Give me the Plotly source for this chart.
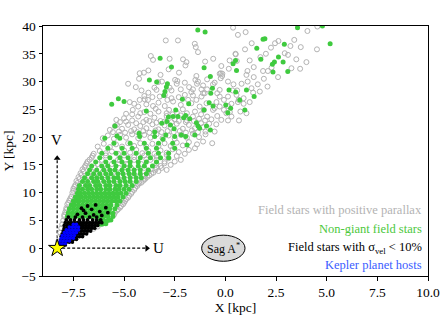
import plotly.graph_objects as go

# ---------------- data (kpc) ----------------
GRAY_PTS = [
    (-8.25,1.2),(-7.75,1.3),(-8.2,2.0),(-7.3,2.2),(-8.15,2.8),(-6.9,2.9),(-8.1,3.6),(-6.5,3.5),(-6.3,3.9),(-8.05,4.3),
    (-6.0,4.5),(-8.0,5.0),(-5.7,5.2),(-7.95,5.7),(-5.5,6.0),(-7.9,6.5),(-5.35,6.8),(-5.2,7.3),(-7.85,7.2),(-7.8,7.9),(-5.05,7.9),
    (-7.7,8.6),(-4.95,8.5),(-4.8,9.1),(-7.6,9.3),(-7.55,10.0),(-4.65,9.8),(-4.5,10.5),(-7.5,10.7),(-4.35,11.2),(-7.4,11.4),
    (-4.15,11.8),(-7.35,12.1),(-3.95,12.5),
    (-7.95,6.0),(-7.85,6.9),(-7.75,8.2),(-7.65,8.95),(-7.5,10.35),(-7.45,11.05),(-7.3,11.75),(-7.2,12.45),(-7.1,13.2),
    (-7.0,13.85),(-6.95,14.6),(-6.85,15.25),(-6.7,15.95),(-6.55,16.65),
    (-5.45,6.4),(-5.3,7.0),(-5.15,7.6),(-5.0,8.2),(-4.9,8.8),(-4.75,9.45),(-4.6,10.15),(-4.45,10.85),(-4.3,11.5),
    (-4.05,12.15),(-3.85,12.85),(-3.65,13.4),(-3.45,14.1),(-3.15,14.45),
    (-7.05,11.65),(-6.55,11.65),(-6.05,11.65),(-5.55,11.65),(-5.05,11.65),(-4.75,11.65),(-4.25,11.7),
    (-6.9,12.35),(-6.4,12.35),(-5.9,12.35),(-5.35,12.35),(-4.85,12.35),(-4.55,12.35),(-4.0,12.4),
    (-6.75,13.05),(-6.25,13.05),(-5.65,13.05),(-5.15,13.05),(-4.55,13.05),(-4.0,13.05),
    (-6.6,13.75),(-6.05,13.75),(-5.5,13.75),(-4.95,13.75),(-4.35,13.75),(-3.8,13.75),
    (-6.45,14.45),(-5.85,14.45),(-5.25,14.45),(-4.65,14.45),(-4.0,14.45),
    (-6.3,15.15),(-5.6,15.15),(-4.9,15.15),(-4.15,15.15),(-3.4,15.2),
    (-6.1,15.9),(-5.3,15.9),(-4.5,15.9),(-3.7,15.9),(-3.0,15.6),
    (-5.9,16.7),(-5.0,16.7),(-4.0,16.7),(-3.4,16.6),(-2.9,16.8),
    (-7.25,12.8),(-3.75,13.1),(-3.55,13.6),(-7.15,13.5),(-3.3,13.9),(-7.05,14.2),(-2.9,14.1),(-3.4,14.5),(-3.2,14.8),(-6.9,14.9),
    (-2.7,15.0),(-3.0,15.3),(-6.8,15.6),(-2.5,15.6),(-2.2,15.9),(-3.4,15.9),(-6.6,16.3),(-2.8,16.2),(-2.4,16.6),(-5.2,15.8),
    (-4.8,15.2),(-4.5,16.4),(-3.9,16.0),
    (-6.5,17.0),(-6.2,17.5),(-5.9,17.1),(-5.6,17.4),(-5.3,17.0),(-5.0,17.6),(-4.7,17.2),(-4.4,17.7),(-4.1,17.1),(-3.8,17.5),
    (-3.5,17.0),(-3.2,17.6),(-2.9,17.2),(-2.6,17.8),(-2.3,17.3),(-2.0,17.0),(-1.8,17.7),(-1.5,18.0),
    (-6.3,18.3),(-6.0,18.8),(-5.7,18.2),(-5.4,18.7),(-5.1,18.3),(-4.8,18.9),(-4.5,18.4),(-4.2,18.9),(-3.9,18.3),(-3.6,18.8),
    (-3.3,18.4),(-3.0,18.9),(-2.7,18.4),(-2.4,19.0),(-2.1,18.5),(-1.8,19.1),(-1.4,18.7),(-1.1,19.2),(-0.65,18.9),
    (-6.05,19.8),(-5.8,20.3),(-5.5,19.7),(-5.2,20.4),(-4.9,19.9),(-4.6,20.5),(-4.3,19.8),(-4.0,20.4),(-3.7,19.9),(-3.4,20.5),
    (-3.1,19.8),(-2.8,20.3),(-2.5,19.7),(-2.2,20.4),(-1.9,19.9),(-1.6,20.6),(-1.3,20.0),(-0.98,20.5),(-0.98,21.0),
    (-5.55,20.9),(-5.25,21.0),(-4.95,20.8),(-4.65,21.1),(-4.35,20.9),(-4.05,21.1),(-3.75,20.8),(-3.45,21.2),(-3.15,20.9),
    (-2.85,21.1),(-2.55,20.9),(-2.25,21.1),(-1.95,20.8),(-1.65,21.2),(-1.35,20.9),(-1.1,21.8),
    (-5.7,21.3),(-5.45,22.0),(-5.1,21.5),(-4.8,22.2),(-4.5,21.4),(-4.2,22.0),(-3.9,21.6),(-3.6,22.3),(-3.3,21.4),(-3.0,22.1),
    (-2.7,21.7),(-2.4,22.4),(-2.1,21.5),(-1.8,22.2),(-1.5,21.6),(-1.2,22.5),(-0.8,22.4),(-0.53,21.0),
    (-5.2,22.7),(-4.9,22.8),(-4.4,22.5),(-4.05,22.7),(-3.75,22.9),(-3.4,22.6),(-3.0,22.8),(-2.65,22.7),(-2.3,22.9),
    (-1.95,22.7),(-1.55,22.9),(-1.0,23.0),(-0.45,22.3),
    (-5.38,23.1),(-5.35,22.2),(-5.0,23.4),(-4.6,23.0),(-4.3,23.7),(-3.9,23.1),(-3.5,23.5),(-3.2,22.9),(-2.9,23.8),(-2.5,23.2),
    (-2.2,23.9),(-1.9,23.0),(-1.6,23.7),(-1.3,23.3),(-0.69,23.2),(-0.20,23.1),(0.13,23.0),(0.67,23.0),
    (-4.9,24.2),(-4.6,24.1),(-4.2,24.3),(-2.9,24.3),(-2.6,24.1),(-1.2,24.1),(-0.9,23.7),(-0.4,23.8),(0.3,23.7),
    (-4.57,24.9),(-4.72,26.3),(-4.23,26.7),(-3.98,26.8),(-3.82,26.7),(-3.57,25.6),(-3.44,25.1),(-3.24,27.3),(-2.99,27.6),
    (-2.86,26.7),(-2.66,27.0),(-2.58,26.4),(-2.99,25.6),(-2.78,24.9),(-1.84,26.7),(-1.68,26.1),(-1.43,26.7),(-1.18,27.3),
    (-1.02,27.9),(-1.27,25.5),(-1.07,24.9),(-0.93,26.1),(-0.61,24.9),(-0.28,27.3),(-0.07,26.7),(0.13,27.3),(0.55,27.6),
    (0.66,26.7),(-0.28,25.5),(-0.07,24.9),(0.13,25.6),(0.05,24.3),(0.22,24.5),(1.04,24.3),(0.74,24.6),(0.62,26.3),(-0.53,25.2),
    (-0.44,26.3),(1.37,28.0),(1.70,28.2),(-4.0,24.5),(-3.7,24.2),(-3.3,24.6),(-2.4,24.4),(-2.1,25.0),(-1.9,24.3),
    (-1.5,24.6),(-2.2,25.8),(-4.3,25.5),(-3.9,25.9),
    (-4.5,26.0),(-4.0,27.4),(-3.6,27.2),(-3.3,26.2),(-2.3,27.2),(-2.0,27.6),(-1.6,27.5),(-0.9,28.6),(-0.4,27.9),(0.3,26.0),
    (0.9,26.0),(0.9,27.0),(1.2,26.3),(-3.8,28.0),(-3.5,28.9),(-2.4,29.6),(-2.0,29.8),(-1.4,29.6),(-0.9,30.4),(0.4,29.5),
    (0.8,29.6),(1.1,30.0),(1.6,29.5),(1.9,30.5),(2.6,30.8),
    (-4.80,29.6),(-4.42,29.0),(-4.14,28.4),(-3.32,29.9),(-3.13,30.0),(-3.40,28.5),(-2.75,28.9),(-2.66,28.4),(-2.20,28.6),
    (-1.79,29.0),(-1.60,28.6),(-1.68,28.1),(-1.10,29.3),(-1.18,28.6),(-1.10,27.9),(-0.53,29.8),(-0.28,28.5),(0.13,30.0),
    (0.35,28.4),(0.58,28.4),(-0.61,29.5),(1.29,28.8),(2.08,29.1),(1.40,30.8),(1.04,31.2),(1.09,31.9),(0.17,32.3),
    (-0.23,31.5),(-0.16,31.0),(-0.28,31.4),(-0.15,31.4),(-0.23,30.6),(-1.43,31.0),(-1.48,30.3),(-1.35,30.0),(-2.48,30.3),
    (-2.37,30.1),(-2.29,31.6),(-4.23,31.5),(-4.02,31.6),(-4.26,30.5),(1.86,31.9),(2.10,31.9),(2.28,32.5),(3.26,32.4),
    (3.69,32.3),
    (-3.8,32.0),(-3.2,31.2),(-2.8,32.2),(-1.0,33.6),(-0.6,34.1),(-0.2,32.8),(1.4,32.6),(1.2,33.8),(2.0,35.0),(3.5,34.0),
    (4.0,33.5),(1.3,36.9),(3.4,37.5),
    (-3.68,34.6),(-3.57,33.9),(-2.75,34.1),(-2.09,34.0),(-1.92,33.5),(-1.97,32.9),(0.51,34.9),(0.56,33.7),(0.21,33.8),
    (1.73,34.4),(2.93,35.1),(3.09,34.8),(0.50,35.0),(0.97,35.8),(2.62,37.3),(2.45,36.9),(2.25,36.1),(3.21,36.4),(3.72,36.2),
    (4.52,35.8),(0.62,38.4),(1.0,38.9),(4.05,39.1),(4.54,39.9),(0.38,39.7),(-2.94,37.4),(-2.34,37.4),(-1.51,36.8),
    (-1.46,36.2),(-1.35,35.3),
]

GREEN_PTS = [
    (-6.3,4.3),(-6.1,4.3),(-5.9,4.4),
    (-6.2,5.0),(-6.0,5.0),(-5.8,5.0),(-5.65,5.1),
    (-7.8,5.7),(-7.6,5.7),(-7.4,5.7),(-7.2,5.7),(-7.0,5.7),(-6.8,5.7),(-6.6,5.7),(-6.4,5.7),(-6.2,5.7),(-6.0,5.7),(-5.8,5.7),(-5.55,5.7),
    (-7.75,6.4),(-7.55,6.4),(-7.35,6.4),(-7.15,6.4),(-6.95,6.4),(-6.75,6.4),(-6.55,6.4),(-6.35,6.4),(-6.15,6.4),(-5.95,6.4),(-5.75,6.4),(-5.55,6.3),
    (-7.7,7.1),(-7.5,7.1),(-7.3,7.1),(-7.1,7.1),(-6.9,7.1),(-6.7,7.1),(-6.5,7.1),(-6.3,7.1),(-6.1,7.1),(-5.9,7.1),(-5.7,7.1),(-5.45,7.1),
    (-7.6,7.8),(-7.45,7.8),(-7.25,7.8),(-7.05,7.8),(-6.85,7.8),(-6.65,7.8),(-6.45,7.8),(-6.25,7.8),(-6.05,7.8),(-5.85,7.8),(-5.65,7.8),(-5.35,7.8),
    (-7.5,8.5),(-7.35,8.5),(-7.2,8.5),(-7.0,8.5),(-6.8,8.5),(-6.6,8.5),(-6.4,8.5),(-6.2,8.5),(-6.0,8.5),(-5.8,8.5),(-5.6,8.5),(-5.4,8.5),(-5.2,8.5),
    (-7.4,9.2),(-7.25,9.2),(-7.1,9.2),(-6.9,9.2),(-6.7,9.2),(-6.5,9.2),(-6.3,9.2),(-6.1,9.2),(-5.9,9.2),(-5.7,9.2),(-5.5,9.2),(-5.3,9.2),(-5.05,9.2),
    (-7.3,9.9),(-7.15,9.9),(-6.95,9.9),(-6.75,9.9),(-6.55,9.9),(-6.35,9.9),(-6.15,9.9),(-5.95,9.9),(-5.75,9.9),(-5.55,9.9),(-5.35,9.9),(-5.15,9.9),(-4.9,9.9),
    (-7.25,10.6),(-7.05,10.6),(-6.8,10.6),(-6.6,10.6),(-6.35,10.6),(-6.15,10.6),(-5.9,10.6),(-5.7,10.6),(-5.45,10.6),(-5.25,10.6),(-5.0,10.6),(-4.75,10.6),
    (-7.2,11.3),(-6.9,11.3),(-6.7,11.3),(-6.4,11.3),(-6.2,11.3),(-5.9,11.3),(-5.7,11.3),(-5.4,11.3),(-5.2,11.3),(-4.9,11.3),(-4.6,11.3),
    (-7.05,12.0),(-6.8,12.0),(-6.5,12.0),(-6.3,12.0),(-6.0,12.0),(-5.75,12.0),(-5.5,12.0),(-5.2,12.0),(-4.95,12.0),(-4.7,12.0),(-4.4,12.0),
    (-6.95,12.7),(-6.6,12.7),(-6.35,12.7),(-6.1,12.7),(-5.8,12.7),(-5.5,12.7),(-5.3,12.7),(-5.0,12.7),(-4.7,12.7),(-4.4,12.7),(-4.15,12.7),
    (-6.8,13.4),(-6.5,13.4),(-6.2,13.4),(-5.9,13.4),(-5.65,13.4),(-5.3,13.4),(-5.05,13.4),(-4.75,13.4),(-4.5,13.4),(-4.2,13.4),(-3.9,13.4),
    (-6.7,14.1),(-6.35,14.1),(-6.0,14.1),(-5.7,14.1),(-5.45,14.1),(-5.1,14.1),(-4.8,14.1),(-4.5,14.1),(-4.2,14.1),(-3.8,14.1),
    (-6.6,14.8),(-6.1,14.8),(-5.8,14.8),(-5.4,14.8),(-5.0,14.8),(-4.7,14.8),(-4.3,14.8),(-4.0,14.8),(-3.6,14.8),
    (-6.4,15.5),(-5.9,15.5),(-5.5,15.5),(-5.1,15.5),(-4.7,15.5),(-4.3,15.5),(-3.9,15.5),(-3.4,15.5),
    (-6.2,16.3),(-5.7,16.3),(-5.2,16.3),(-4.8,16.3),(-4.2,16.3),(-3.7,16.3),(-3.2,16.3),(-2.8,16.3),
    (-6.1,17.1),(-5.4,17.1),(-5.0,17.1),(-4.4,17.1),(-3.8,17.1),(-3.3,17.1),(-2.8,17.1),
    (-5.8,18.0),(-5.1,18.0),(-4.6,18.0),(-3.9,18.0),(-3.4,18.0),(-2.5,18.0),
    (-5.5,18.9),(-4.7,18.9),(-4.0,18.9),(-3.3,18.9),(-2.6,18.9),
    (-5.95,19.8),(-5.35,20.2),(-5.21,19.8),(-4.26,20.7),(-4.23,20.1),(-3.49,20.9),(-3.49,20.1),(-2.94,20.4),(-3.08,19.6),
    (-2.5,20.1),(-2.17,20.4),(-1.96,20.1),(-1.89,18.6),(-1.51,20.4),(-0.93,22.0),(-0.74,21.3),(-5.45,22.0),(-3.14,22.5),
    (-2.89,22.8),(-2.71,22.2),(-2.53,21.5),(-1.43,22.6),(-1.35,22.0),(-1.27,21.6),(-2.81,23.6),(-2.58,23.7),(-2.34,23.7),
    (-1.96,23.9),(-2.06,23.5),(-1.76,23.3),(-3.90,24.7),(-2.45,24.9),(-1.05,24.9),(0.12,24.4),(0.96,24.9),(0.02,25.8),
    (0.26,25.2),(-0.61,25.6),(-0.80,26.2),(-5.61,25.9),(-5.28,26.9),(-5.00,26.4),(-2.12,26.8),(-1.81,26.0),(0.71,26.7),
    (-0.72,27.9),(-0.64,28.8),(1.42,27.3),(1.04,28.5),(0.18,28.5),(0.51,28.1),(-2.91,29.0),(-2.98,28.2),(-3.04,27.5),
    (-3.75,30.3),(-3.39,29.9),(-2.86,29.6),(-0.74,30.9),(-1.05,32.5),(0.55,32.0),(2.35,31.7),(3.08,31.8),(-2.66,32.6),
    (0.38,33.2),(0.50,33.8),(2.62,34.4),(2.42,33.5),(2.32,33.1),(2.85,33.5),(1.75,34.0),(-3.22,34.2),(1.55,36.0),
    (2.91,36.7),(5.17,36.8),(1.86,37.6),(1.95,37.7),(-1.36,39.3),(-1.0,38.9),(3.56,39.7),(4.79,40.0),
]

BLACK_PTS = [
    (-8.2,0.6),(-8.05,0.6),(-7.9,0.6),
    (-8.15,1.1),(-8.0,1.1),(-7.85,1.1),(-7.7,1.1),(-7.55,1.1),
    (-8.1,1.6),(-7.95,1.6),(-7.8,1.6),(-7.65,1.6),(-7.5,1.6),(-7.35,1.6),
    (-8.1,2.1),(-7.95,2.1),(-7.8,2.1),(-7.65,2.1),(-7.5,2.1),(-7.35,2.1),(-7.2,2.1),(-7.05,2.1),
    (-8.05,2.6),(-7.9,2.6),(-7.75,2.6),(-7.6,2.6),(-7.45,2.6),(-7.3,2.6),(-7.15,2.6),(-7.0,2.6),(-6.85,2.6),
    (-8.0,3.1),(-7.85,3.1),(-7.7,3.1),(-7.55,3.1),(-7.4,3.1),(-7.25,3.1),(-7.1,3.1),(-6.95,3.1),(-6.8,3.1),(-6.65,3.1),
    (-7.95,3.6),(-7.8,3.6),(-7.65,3.6),(-7.5,3.6),(-7.35,3.6),(-7.2,3.6),(-7.05,3.6),(-6.9,3.6),(-6.75,3.6),(-6.6,3.6),(-6.45,3.6),
    (-7.95,4.1),(-7.8,4.1),(-7.65,4.1),(-7.5,4.1),(-7.35,4.1),(-7.2,4.1),(-7.05,4.1),(-6.9,4.1),(-6.75,4.1),(-6.6,4.1),(-6.45,4.1),(-6.3,4.1),
    (-7.9,4.6),(-7.75,4.6),(-7.6,4.6),(-7.45,4.6),(-7.3,4.6),(-7.15,4.6),(-7.0,4.6),(-6.85,4.6),(-6.7,4.6),(-6.55,4.6),(-6.4,4.6),(-6.25,4.6),(-6.1,4.6),
    (-7.85,5.1),(-7.65,5.1),(-7.45,5.1),(-7.2,5.1),(-7.0,5.1),(-6.8,5.1),(-6.55,5.1),(-6.35,5.1),(-6.15,5.1),
    (-7.75,5.6),(-7.4,5.6),(-7.05,5.6),(-6.7,5.6),(-6.35,5.6),
    (-7.3,6.1),(-6.9,6.3),(-6.5,6.0),(-6.1,5.9),(-7.0,6.8),(-6.6,7.0),(-6.2,6.6),(-5.8,6.4),(-6.8,7.6),(-6.4,7.8),
    (-5.9,7.3),(-7.1,7.2),
]

BLUE_PTS = [
    (-8.25,0.3),(-8.1,0.3),
    (-8.2,0.8),(-8.05,0.8),(-7.9,0.8),
    (-8.15,1.3),(-8.0,1.3),(-7.85,1.3),(-7.7,1.3),
    (-8.1,1.8),(-7.95,1.8),(-7.8,1.8),(-7.65,1.8),(-7.5,1.8),
    (-8.05,2.3),(-7.9,2.3),(-7.75,2.3),(-7.6,2.3),(-7.45,2.3),
    (-7.95,2.8),(-7.8,2.8),(-7.65,2.8),(-7.5,2.8),(-7.35,2.8),
    (-7.85,3.3),(-7.7,3.3),(-7.55,3.3),(-7.4,3.3),(-7.25,3.3),
    (-7.7,3.8),(-7.55,3.8),(-7.4,3.8),(-7.25,3.8),
    (-7.5,4.3),(-7.35,4.3),
]

SUN_X, SUN_Y = [-8.3], [0.0]
SGR_X, SGR_Y = -0.1, 0.0
V_TIP = 16.8
U_TIP = -3.75

LEGEND_LABELS = [
    "Field stars with positive parallax",
    "Non-giant field stars",
    "Field stars with σ<sub>vel</sub> < 10%",
    "Kepler planet hosts",
]
X_TICKS = [-7.5, -5.0, -2.5, 0.0, 2.5, 5.0, 7.5, 10.0]
Y_TICKS = [-5, 0, 5, 10, 15, 20, 25, 30, 35, 40]

# ---------------- styles ----------------
C_GRAY = "#b3b3b3"
C_GREEN = "#3fca3f"
C_BLACK = "#000000"
C_BLUE = "#0000ff"
LEG_COLORS = ["#b3b3b3", "#4cc83c", "#000000", "#3a5cff"]
TIMES = "Liberation Serif"

def xs(p):
    return [a for a, _ in p]

def ys(p):
    return [b for _, b in p]

fig = go.Figure()

# U / V dashed axes from the Sun
fig.add_trace(go.Scatter(x=[SUN_X[0], SUN_X[0]], y=[SUN_Y[0], V_TIP - 0.8], mode="lines",
                         line=dict(color="black", width=1.2, dash="3px,2px"), hoverinfo="skip"))
fig.add_trace(go.Scatter(x=[SUN_X[0], U_TIP - 0.15], y=[SUN_Y[0], SUN_Y[0]], mode="lines",
                         line=dict(color="black", width=1.2, dash="3px,2px"), hoverinfo="skip"))
fig.add_trace(go.Scatter(x=[SUN_X[0]], y=[V_TIP - 0.6], mode="markers",
                         marker=dict(symbol="triangle-up", size=6, color="black"), hoverinfo="skip"))
fig.add_trace(go.Scatter(x=[U_TIP - 0.12], y=[SUN_Y[0]], mode="markers",
                         marker=dict(symbol="triangle-right", size=6, color="black"), hoverinfo="skip"))

fig.add_trace(go.Scatter(x=xs(GRAY_PTS), y=ys(GRAY_PTS), mode="markers",
                         marker=dict(symbol="circle-open", size=5, color=C_GRAY, line=dict(width=1, color=C_GRAY))))
fig.add_trace(go.Scatter(x=xs(GREEN_PTS), y=ys(GREEN_PTS), mode="markers",
                         marker=dict(symbol="circle", size=5, color=C_GREEN, line=dict(width=0))))
fig.add_trace(go.Scatter(x=xs(BLACK_PTS), y=ys(BLACK_PTS), mode="markers",
                         marker=dict(symbol="circle", size=3.8, color=C_BLACK, line=dict(width=0))))
fig.add_trace(go.Scatter(x=xs(BLUE_PTS), y=ys(BLUE_PTS), mode="markers",
                         marker=dict(symbol="circle", size=3.6, color=C_BLUE, line=dict(width=0))))
fig.add_trace(go.Scatter(x=SUN_X, y=SUN_Y, mode="markers",
                         marker=dict(symbol="star", size=13, color="#ffff00", line=dict(width=1, color="black"))))

# Sag A* ellipse
fig.add_shape(type="circle", xref="x", yref="y", x0=SGR_X - 1.07, x1=SGR_X + 1.07, y0=SGR_Y - 2.35, y1=SGR_Y + 2.35,
              fillcolor="#d9d9d9", line=dict(color="black", width=1), layer="above")

ann = [
    dict(x=SGR_X, y=SGR_Y, xref="x", yref="y", text="Sag A<sup>*</sup>", showarrow=False,
         font=dict(family=TIMES, size=12, color="black")),
    dict(x=SUN_X[0] - 0.05, y=19.5, xref="x", yref="y", text="V", showarrow=False,
         font=dict(family=TIMES, size=15, color="black")),
    dict(x=-3.3, y=0.0, xref="x", yref="y", text="U", showarrow=False,
         font=dict(family=TIMES, size=15, color="black")),
]
for lbl, col, yp in zip(LEGEND_LABELS, LEG_COLORS, [0.266, 0.190, 0.112, 0.044]):
    ann.append(dict(x=0.989, y=yp, xref="paper", yref="paper", text=lbl, showarrow=False,
                    xanchor="right", yanchor="middle", font=dict(family=TIMES, size=12.5, color=col)))

axis_common = dict(showgrid=False, zeroline=False, showline=True, mirror=True, linecolor="black", linewidth=1,
                   ticks="outside", ticklen=3.5, tickwidth=1, tickcolor="black", automargin=False,
                   tickfont=dict(family=TIMES, size=13.5, color="black"))

fig.update_layout(
    width=443, height=332,
    margin=dict(l=43, r=15, t=26, b=56),
    paper_bgcolor="white", plot_bgcolor="white",
    showlegend=False,
    annotations=ann,
    xaxis=dict(range=[-9, 10], tickvals=X_TICKS, ticktext=[("−" if v < 0 else "") + f"{abs(v):.1f}" for v in X_TICKS],
               title=dict(text="X [kpc]", font=dict(family=TIMES, size=13.5, color="black"), standoff=1),
               **axis_common),
    yaxis=dict(range=[-5, 40], tickvals=Y_TICKS, ticktext=[("−" if v < 0 else "") + str(abs(v)) for v in Y_TICKS],
               title=dict(text="Y [kpc]", font=dict(family=TIMES, size=13.5, color="black"), standoff=4),
               **axis_common),
)

# remove the browser's default 8px page margin so the figure sits at the window's corner
fig.write_html("out.html", config={"displayModeBar": False},
               post_script="document.body.style.margin='0';document.body.style.overflow='hidden';")
